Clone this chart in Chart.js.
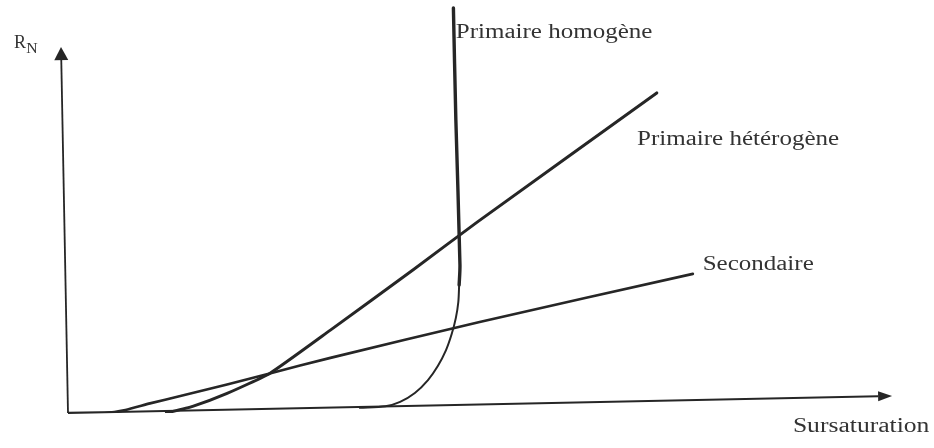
<!DOCTYPE html>
<html lang="fr">
<head>
    <meta charset="UTF-8">
    <title>Vitesse de nucléation - sursaturation</title>
    <!-- Chart.js pour le graphique -->
    <script src="https://cdn.jsdelivr.net/npm/chart.js"></script>
    <style>
        html, body {
            margin: 0;
            padding: 0;
            background: #ffffff;
        }
        canvas {
            display: block;
        }
    </style>
</head>
<body>
    <canvas id="nucleationChart" width="934" height="448"></canvas>
    <script>
        // Courbes (sursaturation en x, R_N en y, unités arbitraires)
        const homogeneX = [35.6, 38.7, 40.5, 42.3, 43.9, 45.1, 46.1, 46.8, 47.3, 47.6, 47.7, 47.8, 47.3, 47.0];
        const homogeneY = [1.4, 1.8, 3.0, 5.4, 8.9, 12.7, 17.0, 21.4, 25.7, 30.0, 34.6, 40.0, 79.2, 109.5];

        const heterogeneX = [12.0, 15.2, 19.4, 24.6, 32.0, 42.1, 49.9, 71.8];
        const heterogeneY = [0, 1.8, 5.3, 10.7, 22.4, 38.7, 51.6, 86.5];

        const secondaireX = [0, 4.5, 7.0, 10.0, 13.7, 19.4, 24.6, 32.0, 50.2, 76.2];
        const secondaireY = [0, 0, 0.8, 2.6, 4.6, 7.7, 10.7, 14.9, 24.6, 37.6];

        const nomsCourbes = ['Primaire homogène', 'Primaire hétérogène', 'Secondaire'];

        function points(xs, ys) {
            return xs.map((x, i) => ({ x: x, y: ys[i] }));
        }

        const encre = '#262626';
        const police = '"Liberation Serif", "Times New Roman", serif';

        // texte légèrement étiré comme sur le scan
        function texte(ctx, str, x, y, taille, etirement) {
            ctx.save();
            ctx.translate(x, y);
            ctx.scale(etirement, 1);
            ctx.font = taille + 'px ' + police;
            ctx.fillStyle = '#333333';
            ctx.textAlign = 'left';
            ctx.textBaseline = 'alphabetic';
            ctx.fillText(str, 0, 0);
            ctx.restore();
        }

        // axes avec flèches (le scan est un peu de travers)
        const axesFleches = {
            id: 'axesFleches',
            beforeDatasetsDraw(chart, args, opts) {
                const ctx = chart.ctx;
                const sx = chart.scales.x, sy = chart.scales.y;
                const o = { x: sx.getPixelForValue(0), y: sy.getPixelForValue(0) };
                ctx.save();
                ctx.strokeStyle = encre;
                ctx.fillStyle = encre;
                ctx.lineWidth = 1.8;
                opts.fleches.forEach(f => {
                    const t = { x: sx.getPixelForValue(f.x), y: sy.getPixelForValue(f.y) };
                    const dx = t.x - o.x, dy = t.y - o.y;
                    const len = Math.hypot(dx, dy);
                    const ux = dx / len, uy = dy / len;
                    const bx = t.x - ux * f.longueur, by = t.y - uy * f.longueur;
                    ctx.beginPath();
                    ctx.moveTo(o.x, o.y);
                    ctx.lineTo(bx, by);
                    ctx.stroke();
                    ctx.beginPath();
                    ctx.moveTo(t.x, t.y);
                    ctx.lineTo(bx - uy * f.demiLargeur, by + ux * f.demiLargeur);
                    ctx.lineTo(bx + uy * f.demiLargeur, by - ux * f.demiLargeur);
                    ctx.closePath();
                    ctx.fill();
                });
                ctx.restore();
            },
            afterDatasetsDraw(chart, args, opts) {
                const sx = chart.scales.x, sy = chart.scales.y;
                opts.textes.forEach(t => {
                    texte(chart.ctx, t.texte, sx.getPixelForValue(t.x), sy.getPixelForValue(t.y), t.taille, t.etirement);
                });
            }
        };

        const ctx = document.getElementById('nucleationChart').getContext('2d');
        const nucleationChart = new Chart(ctx, {
            type: 'scatter',
            data: {
                datasets: [
                    {
                        label: nomsCourbes[0],
                        data: points(homogeneX, homogeneY),
                        showLine: true,
                        borderColor: encre,
                        borderWidth: 2,
                        tension: 0.3,
                        segment: {
                            // partie verticale plus épaisse
                            borderWidth: c => c.p0DataIndex >= 10 ? 3.4 : 2
                        }
                    },
                    {
                        label: nomsCourbes[1],
                        data: points(heterogeneX, heterogeneY),
                        showLine: true,
                        borderColor: encre,
                        borderWidth: 3,
                        tension: 0.15
                    },
                    {
                        label: nomsCourbes[2],
                        data: points(secondaireX, secondaireY),
                        showLine: true,
                        borderColor: encre,
                        borderWidth: 2.6,
                        tension: 0.2
                    }
                ]
            },
            options: {
                responsive: false,
                animation: false,
                layout: {
                    padding: { left: 68, right: 46, top: 6, bottom: 35 }
                },
                elements: {
                    point: { radius: 0 },
                    line: { borderCapStyle: 'round', borderJoinStyle: 'round' }
                },
                scales: {
                    x: { type: 'linear', min: 0, max: 100, display: false },
                    y: { type: 'linear', min: 0, max: 110, display: false }
                },
                plugins: {
                    legend: { display: false },
                    tooltip: { enabled: false },
                    axesFleches: {
                        fleches: [
                            { x: 100.5, y: 4.6, longueur: 14, demiLargeur: 5 },
                            { x: -0.85, y: 98.9, longueur: 13, demiLargeur: 7 }
                        ],
                        textes: [
                            { texte: nomsCourbes[0], x: 47.3, y: 101.4, taille: 20, etirement: 1.25 },
                            { texte: nomsCourbes[1], x: 69.4, y: 72.4, taille: 20, etirement: 1.25 },
                            { texte: nomsCourbes[2], x: 77.4, y: 38.6, taille: 20, etirement: 1.25 },
                            { texte: 'Sursaturation', x: 88.4, y: -5.1, taille: 20, etirement: 1.28 },
                            { texte: 'R', x: -6.6, y: 98.6, taille: 18, etirement: 1.0 },
                            { texte: 'N', x: -5.1, y: 97.3, taille: 15, etirement: 1.05 }
                        ]
                    }
                }
            },
            plugins: [axesFleches]
        });
    </script>
</body>
</html>
